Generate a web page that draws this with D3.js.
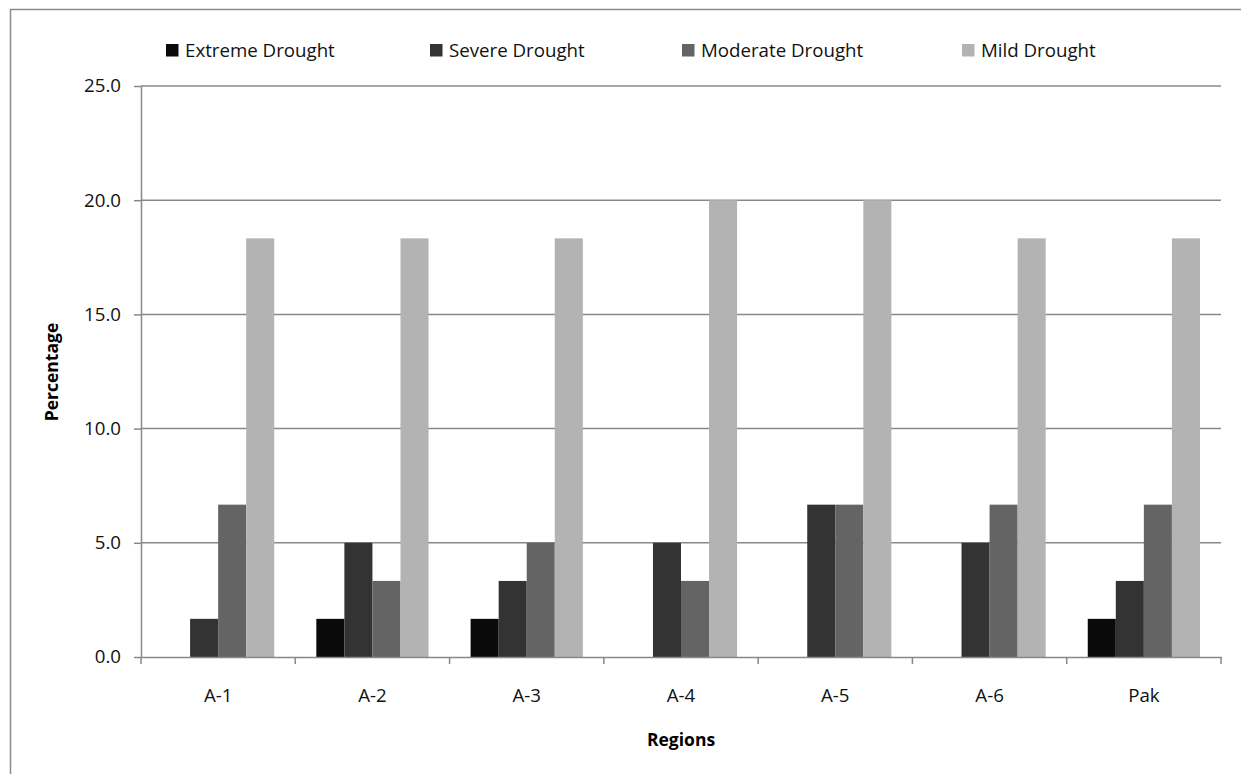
<!DOCTYPE html>
<html><head><meta charset="utf-8">
<script src="https://cdn.jsdelivr.net/npm/d3@7"></script>
<style>body{margin:0;background:#fff}svg{display:block}</style>
</head><body>
<svg id="c" width="1241" height="774"></svg>
<script>
const categories = ["A-1","A-2","A-3","A-4","A-5","A-6","Pak"];
const seriesNames = ["Extreme Drought","Severe Drought","Moderate Drought","Mild Drought"];
const extreme  = [0, 1.67, 1.67, 0, 0, 0, 1.67];
const severe   = [1.67, 5.0, 3.33, 5.0, 6.67, 5.0, 3.33];
const moderate = [6.67, 3.33, 5.0, 3.33, 6.67, 6.67, 6.67];
const mild     = [18.33, 18.33, 18.33, 20.0, 20.0, 18.33, 18.33];
const yTicks = [0, 5, 10, 15, 20, 25];
const colors = ["#0a0a0a","#333333","#646464","#b3b3b3"];

const seriesValues = [extreme, severe, moderate, mild];
const font = "'Open Sans', Lato, sans-serif";
const fs = 18.7;
const txt = "#111";
const svg = d3.select("#c");

// outer border
svg.append("path").attr("d","M10.5,774 V9.5 H1241").attr("fill","none").attr("stroke","#8c8c8c").attr("stroke-width",1.5);

const L=141, R=1221, T=86, B=657;
const xb = d3.scaleBand().domain(categories).range([L,R]);
const y = d3.scaleLinear().domain([0,25]).range([B,T]);

// gridlines
svg.append("g").selectAll("line").data(yTicks.filter(d=>d>0)).join("line")
  .attr("x1",L).attr("x2",R).attr("y1",d=>y(d)).attr("y2",d=>y(d))
  .attr("stroke","#888").attr("stroke-width",1.5);

// bars
const xs = d3.scaleBand().domain(d3.range(4));
categories.forEach((c,i)=>{
  const gx = xb(c) + xb.bandwidth()*0.75/5.5;
  const bw = xb.bandwidth()*4/5.5;
  xs.range([gx, gx+bw]);
  seriesValues.forEach((vals,s)=>{
    if (vals[i] <= 0) return;
    svg.append("rect").attr("x",xs(s)).attr("width",xs.bandwidth())
      .attr("y",y(vals[i])).attr("height",B-y(vals[i])).attr("fill",colors[s]);
  });
});

// y axis
const yAxis = svg.append("g").attr("transform",`translate(${L},0)`)
  .call(d3.axisLeft(y).tickValues(yTicks).tickFormat(d3.format(".1f")).tickSize(7).tickSizeOuter(0));
yAxis.select(".domain").attr("stroke","#888").attr("stroke-width",1.5);
yAxis.selectAll(".tick line").attr("stroke","#888").attr("stroke-width",1.5);
yAxis.selectAll("text").attr("font-family",font).attr("font-size",fs).attr("fill",txt).attr("x",-20);

// x axis
const xAxis = svg.append("g").attr("transform",`translate(0,${B})`)
  .call(d3.axisBottom(xb).tickSize(0).tickSizeOuter(0));
xAxis.select(".domain").attr("stroke","#888").attr("stroke-width",1.5);
xAxis.selectAll("text").attr("font-family",font).attr("font-size",fs).attr("fill",txt).attr("dy","0").attr("y",45);
// boundary ticks
svg.append("g").selectAll("line").data(categories.concat(["end"])).join("line")
  .attr("x1",(d,i)=>L + i*xb.step()).attr("x2",(d,i)=>L + i*xb.step())
  .attr("y1",B).attr("y2",B+7).attr("stroke","#888").attr("stroke-width",1.5);

// axis titles
svg.append("text").attr("x",(L+R)/2).attr("y",746).attr("text-anchor","middle")
  .attr("font-family",font).attr("font-weight","bold").attr("font-size",17.5).attr("fill","#000").text("Regions");
svg.append("text").attr("transform","translate(58,372) rotate(-90)").attr("text-anchor","middle")
  .attr("font-family",font).attr("font-weight","bold").attr("font-size",17.5).attr("fill","#000").text("Percentage");

// legend
const legX = [166, 430, 682, 962];
seriesNames.forEach((n,s)=>{
  svg.append("rect").attr("x",legX[s]).attr("y",44).attr("width",12.5).attr("height",12.5).attr("fill",colors[s]);
  svg.append("text").attr("x",legX[s]+19).attr("y",57).attr("font-family",font).attr("font-size",fs).attr("fill",txt).text(n);
});
</script>
</body></html>
